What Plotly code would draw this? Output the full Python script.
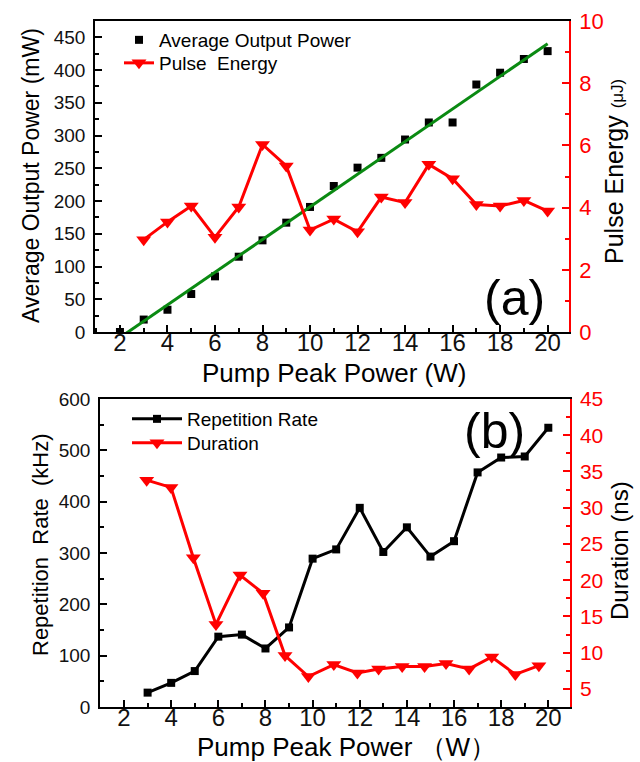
import numpy as np
import plotly.graph_objects as go

# ---------------- data ----------------
pump_power = list(range(2, 21))
avg_output_power = [0, 19, 34, 58, 85, 115, 140, 167, 191, 223, 251, 266, 294, 320, 320, 378, 396, 417, 429]

pulse_pump = list(range(3, 21))
pulse_energy = [2.97, 3.54, 4.05, 3.05, 4.02, 6.03, 5.34, 3.28, 3.63, 3.22, 4.34, 4.16, 5.39, 4.93, 4.10, 4.05, 4.23, 3.89]

rep_pump = list(range(3, 21))
rep_rate = [28, 47, 70, 137, 141, 114, 155, 289, 307, 388, 302, 350, 293, 323, 457, 486, 488, 544]

dur_pump = [2.96, 3.99, 4.94, 5.9, 6.92, 7.9, 8.83, 9.82, 10.9, 11.9, 12.8, 13.8, 14.75, 15.66, 16.64, 17.6, 18.6, 19.6]
duration = [33.8, 32.8, 23.1, 13.9, 20.7, 18.2, 9.6, 6.7, 8.35, 7.2, 7.75, 8.1, 8.1, 8.5, 7.75, 9.4, 7.0, 8.2]

x_ticks = [2, 4, 6, 8, 10, 12, 14, 16, 18, 20]

# ---------------- layout helpers ----------------
W, H = 640, 762
FONT = "Liberation Sans, Arial, sans-serif"
RED = "#ff0000"
GREEN = "#0a8a12"


def px(x):
    return x / W


def py(y):
    return 1 - y / H


fit = np.polyfit(pump_power, avg_output_power, 1)
fit_x = np.array([pump_power[0], pump_power[-1]], dtype=float)
fit_y = np.polyval(fit, fit_x)

fig = go.Figure()

# ----- panel (a) -----
fig.add_trace(go.Scatter(
    x=pump_power, y=avg_output_power, mode="markers", name="Average Output Power",
    marker=dict(symbol="square", size=8, color="black"),
    xaxis="x", yaxis="y", legend="legend"))
fig.add_trace(go.Scatter(
    x=fit_x, y=fit_y, mode="lines", showlegend=False,
    line=dict(color=GREEN, width=3), xaxis="x", yaxis="y"))
fig.add_trace(go.Scatter(
    x=pulse_pump, y=pulse_energy, mode="lines+markers", name="Pulse\u00a0 Energy",
    line=dict(color=RED, width=3),
    marker=dict(symbol="triangle-down", size=13, color=RED),
    xaxis="x", yaxis="y2", legend="legend2"))

# ----- panel (b) -----
fig.add_trace(go.Scatter(
    x=rep_pump, y=rep_rate, mode="lines+markers", name="Repetition Rate",
    line=dict(color="black", width=3),
    marker=dict(symbol="square", size=8, color="black"),
    xaxis="x2", yaxis="y3", legend="legend3"))
fig.add_trace(go.Scatter(
    x=dur_pump, y=duration, mode="lines+markers", name="Duration",
    line=dict(color=RED, width=3),
    marker=dict(symbol="triangle-down", size=13, color=RED),
    xaxis="x2", yaxis="y4", legend="legend4"))


def axis_common(color, size):
    return dict(
        showgrid=False, zeroline=False, showline=True, linecolor=color, linewidth=1.5,
        ticks="inside", ticklen=7, tickwidth=1.5, tickcolor=color,
        tickfont=dict(family=FONT, size=size, color=color if color != "black" else "#111"),
        automargin=False,
    )


xa = axis_common("black", 24)
xa.update(domain=[px(95), px(569)], range=[0.95, 20.9], anchor="y",
          tickvals=x_ticks, mirror=True, ticklabelstandoff=-12,
          minor=dict(dtick=1, tick0=0, ticks="inside", ticklen=4, tickcolor="black"))
ya = axis_common("black", 19)
ya.update(domain=[py(332), py(21)], range=[0, 475], anchor="x", dtick=50, tick0=0,
          ticklabelstandoff=4,
          minor=dict(dtick=25, tick0=0, ticks="inside", ticklen=4, tickcolor="black"))
ya2 = axis_common(RED, 22)
ya2.update(overlaying="y", side="right", anchor="x", range=[0, 10], dtick=2, tick0=0,
           ticklabelstandoff=4,
           minor=dict(dtick=1, tick0=0, ticks="inside", ticklen=4, tickcolor=RED))

xb = axis_common("black", 24)
xb.update(domain=[px(100), px(570)], range=[0.98, 20.92], anchor="y3",
          tickvals=x_ticks, mirror=True, ticklabelstandoff=-12,
          minor=dict(dtick=1, tick0=0, ticks="inside", ticklen=4, tickcolor="black"))
yb = axis_common("black", 19)
yb.update(domain=[py(707), py(399)], range=[0, 600], anchor="x2", dtick=100, tick0=0,
          ticklabelstandoff=4,
          minor=dict(dtick=50, tick0=0, ticks="inside", ticklen=4, tickcolor="black"))
yb2 = axis_common(RED, 21)
yb2.update(overlaying="y3", side="right", anchor="x2", range=[2.5, 45], dtick=5, tick0=0,
           ticklabelstandoff=4,
           minor=dict(dtick=2.5, tick0=0, ticks="inside", ticklen=4, tickcolor=RED))

annotations = [
    # panel (a) titles
    dict(text="Average Output Power (mW)", x=px(31), y=py(176), textangle=-90, font=dict(size=23)),
    dict(text="Pulse Energy <span style='font-size:17px'>(\u03bcJ)</span>", x=px(614), y=py(172),
         textangle=-90, font=dict(size=25)),
    dict(text="Pump Peak Power (W)", x=px(334), y=py(373), font=dict(size=26)),
    dict(text="(a)", x=px(514), y=py(298), font=dict(size=50)),
    # panel (b) titles
    dict(text="Repetition\u00a0 Rate\u00a0 (kHz)", x=px(40), y=py(545), textangle=-90, font=dict(size=22)),
    dict(text="Duration (ns)", x=px(619), y=py(551), textangle=-90, font=dict(size=24)),
    dict(text="Pump Peak Power \uff08W\uff09", x=px(346), y=py(747), font=dict(size=26)),
    dict(text="(b)", x=px(494), y=py(431), font=dict(size=50)),
]
for a in annotations:
    a.update(xref="paper", yref="paper", showarrow=False, xanchor="center", yanchor="middle")
    a["font"].update(family=FONT, color="black")


def leg(x_px, top_px, width):
    return dict(x=px(x_px), y=py(top_px), xanchor="left", yanchor="top",
                bgcolor="rgba(0,0,0,0)", borderwidth=0,
                font=dict(family=FONT, size=19, color="black"),
                itemwidth=width, tracegroupgap=0)


fig.update_layout(
    template="none",
    width=W, height=H,
    margin=dict(l=0, r=0, t=0, b=0, pad=0),
    paper_bgcolor="white", plot_bgcolor="white",
    font=dict(family=FONT, color="black"),
    xaxis=xa, yaxis=ya, yaxis2=ya2,
    xaxis2=xb, yaxis3=yb, yaxis4=yb2,
    legend=leg(119, 21, 30),
    legend2=leg(119, 44, 30),
    legend3=leg(127, 400, 50),
    legend4=leg(127, 424, 50),
    annotations=annotations,
    showlegend=True,
)

fig.write_html("out.html")
